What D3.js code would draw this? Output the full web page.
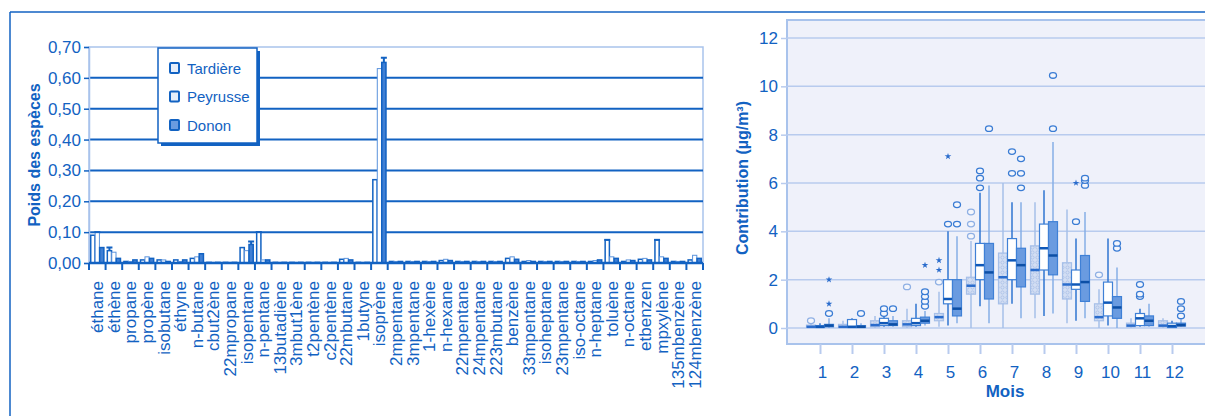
<!DOCTYPE html>
<html>
<head>
<meta charset="utf-8">
<script src="https://cdn.jsdelivr.net/npm/d3@7"></script>
<style>
  body { margin: 0; background: #fff; }
  svg { display: block; font-family: "Liberation Sans", Arial, sans-serif; }
</style>
</head>
<body>
<div id="chart"></div>
<script>
// ---- left chart data (weights of species per site) ----
const species = ["éthane", "éthène", "propane", "propène", "isobutane", "éthyne", "n-butane", "cbut2ène",
  "22mpropane", "isopentane", "n-pentane", "13butadiène", "3mbut1ène", "t2pentène", "c2pentène", "22mbutane",
  "1butyne", "isoprène", "2mpentane", "3mpentane", "1-hexène", "n-hexane", "22mpentane", "24mpentane",
  "223mbutane", "benzène", "33mpentane", "isoheptane", "23mpentane", "iso-octane", "n-heptane", "toluène",
  "n-octane", "etbenzen", "mpxylène", "135mbenzène", "124mbenzène"];
const sites = ["Tardière", "Peyrusse", "Donon"];
const tardiere = [0.09, 0.04, 0.005, 0.01, 0.01, 0.01, 0.015, 0.002, 0.002, 0.05, 0.10, 0.002, 0.002, 0.002, 0.002, 0.012,
  0.002, 0.27, 0.005, 0.005, 0.005, 0.008, 0.005, 0.005, 0.005, 0.015, 0.005, 0.005, 0.005, 0.005, 0.005, 0.075,
  0.005, 0.012, 0.075, 0.005, 0.01];
const peyrusse = [0.10, 0.035, 0.005, 0.02, 0.01, 0.005, 0.02, 0.002, 0.002, 0.04, 0.01, 0.002, 0.002, 0.002, 0.002, 0.015,
  0.002, 0.63, 0.005, 0.005, 0.005, 0.012, 0.005, 0.005, 0.005, 0.02, 0.008, 0.005, 0.005, 0.005, 0.008, 0.02,
  0.01, 0.015, 0.02, 0.005, 0.025];
const donon = [0.05, 0.015, 0.01, 0.015, 0.005, 0.01, 0.03, 0.002, 0.002, 0.06, 0.01, 0.002, 0.002, 0.002, 0.002, 0.01,
  0.002, 0.65, 0.005, 0.005, 0.005, 0.008, 0.005, 0.005, 0.005, 0.012, 0.005, 0.005, 0.005, 0.005, 0.01, 0.015,
  0.008, 0.01, 0.015, 0.005, 0.015];
const caps = [["éthane", 1, 0.10], ["éthène", 0, 0.05], ["isopentane", 2, 0.07], ["n-pentane", 0, 0.10],
  ["isoprène", 2, 0.665], ["toluène", 0, 0.075], ["mpxylène", 0, 0.075]];
const leftTicks = [0, 0.1, 0.2, 0.3, 0.4, 0.5, 0.6, 0.7];

// ---- right chart data (monthly boxplots): [low whisker, q1, median, q3, high whisker] ----
const months = [1, 2, 3, 4, 5, 6, 7, 8, 9, 10, 11, 12];
const boxTardiere = [[0, 0.02, 0.05, 0.12, 0.25], [0, 0.02, 0.05, 0.15, 0.3], [0, 0.05, 0.12, 0.3, 0.5],
  [0, 0.05, 0.15, 0.3, 0.8], [0.05, 0.3, 0.45, 0.6, 1.5], [0, 1.4, 1.75, 2.1, 3.6], [0, 1.0, 2.1, 3.1, 6.0],
  [0.4, 1.4, 2.4, 3.4, 5.2], [0.2, 1.2, 1.8, 2.7, 4.9], [0, 0.3, 0.45, 1.0, 1.6], [0, 0.05, 0.1, 0.2, 0.4],
  [0, 0.05, 0.1, 0.3, 0.4]];
const boxPeyrusse = [[0, 0.02, 0.05, 0.1, 0.2], [0, 0.02, 0.05, 0.35, 0.4], [0.05, 0.1, 0.2, 0.4, 0.6],
  [0.05, 0.1, 0.2, 0.4, 1.0], [0.1, 1.0, 1.2, 2.0, 4.0], [0.9, 2.0, 2.6, 3.5, 5.6], [1.0, 2.0, 2.8, 3.7, 5.2],
  [0.5, 2.4, 3.3, 4.3, 5.7], [0.3, 1.6, 1.8, 2.4, 3.7], [0.1, 0.5, 1.05, 1.9, 3.7], [0.05, 0.1, 0.4, 0.6, 0.8],
  [0, 0.02, 0.08, 0.2, 0.3]];
const boxDonon = [[0, 0.05, 0.1, 0.15, 0.4], [0, 0.02, 0.05, 0.1, 0.2], [0.05, 0.1, 0.15, 0.3, 0.5],
  [0.1, 0.2, 0.3, 0.45, 0.7], [0.2, 0.5, 0.8, 2.0, 3.8], [0.2, 1.2, 2.3, 3.5, 5.9], [0.4, 1.7, 2.6, 3.3, 5.2],
  [0.6, 2.2, 3.0, 4.4, 7.7], [0.4, 1.1, 1.9, 3.0, 4.8], [0, 0.4, 0.85, 1.3, 2.5], [0.05, 0.1, 0.3, 0.5, 1.0],
  [0.05, 0.08, 0.12, 0.2, 0.4]];
// outliers: [month, site index, value]
const outliers = [[1, 0, 0.3], [1, 2, 0.6], [2, 2, 0.6], [3, 1, 0.6], [3, 1, 0.8], [3, 2, 0.8], [4, 0, 1.7],
  [4, 2, 0.9], [4, 2, 1.1], [4, 2, 1.3], [4, 2, 1.5], [5, 1, 4.3], [5, 2, 4.3], [5, 2, 5.1], [5, 0, 1.9],
  [6, 0, 3.8], [6, 0, 4.3], [6, 0, 4.8], [6, 1, 5.8], [6, 1, 6.2], [6, 1, 6.5], [6, 2, 8.25],
  [7, 1, 6.4], [7, 1, 7.3], [7, 2, 5.8], [7, 2, 6.4], [7, 2, 7.0], [8, 2, 8.25], [8, 2, 10.45],
  [9, 1, 4.4], [9, 2, 5.9], [9, 2, 6.1], [9, 2, 6.2], [10, 0, 2.2], [10, 2, 3.3], [10, 2, 3.5],
  [11, 1, 1.3], [11, 1, 1.4], [11, 1, 1.8], [12, 2, 0.5], [12, 2, 0.8], [12, 2, 1.1]];
const extremes = [[1, 2, 2.0], [1, 2, 1.0], [4, 2, 2.6], [5, 0, 2.4], [5, 0, 2.8], [5, 1, 7.1], [9, 1, 6.0]];
const rightTicks = [0, 2, 4, 6, 8, 10, 12];

const blue = "#1262c2";
const svg = d3.select("#chart").append("svg").attr("width", 1205).attr("height", 416);

// outer frame lines
svg.append("line").attr("x1", 10).attr("x2", 1205).attr("y1", 12).attr("y2", 12)
  .attr("stroke", blue).attr("stroke-width", 1.5);
svg.append("line").attr("x1", 10).attr("x2", 10).attr("y1", 12).attr("y2", 416)
  .attr("stroke", blue).attr("stroke-width", 1.5);

// ================= left chart =================
const L = { left: 89, right: 703, top: 47, bottom: 263 };
const yL = d3.scaleLinear().domain([0, 0.7]).range([L.bottom, L.top]);
const xL = d3.scaleBand().domain(species).range([L.left, L.right]);
const xS = d3.scaleBand().domain(d3.range(3)).range([1.5, xL.bandwidth() - 1.5]).padding(0.05);

const gL = svg.append("g");
gL.append("rect").attr("x", L.left).attr("y", L.top).attr("width", L.right - L.left).attr("height", L.bottom - L.top)
  .attr("fill", "none").attr("stroke", "#a9c3ec").attr("stroke-width", 1.5);

gL.selectAll(".grid").data(leftTicks.filter(d => d > 0 && d < 0.7)).enter().append("line")
  .attr("x1", L.left).attr("x2", L.right).attr("y1", d => yL(d)).attr("y2", d => yL(d))
  .attr("stroke", blue).attr("stroke-width", 2);

// left axis
gL.append("g").attr("transform", `translate(${L.left},0)`)
  .call(d3.axisLeft(yL).tickValues(leftTicks).tickSize(5).tickPadding(3)
    .tickFormat(d => d3.format(".2f")(d).replace(".", ",")))
  .call(g => g.select(".domain").attr("stroke", "#a9c3ec").attr("stroke-width", 1.5))
  .call(g => g.selectAll(".tick line").attr("stroke", blue).attr("stroke-width", 1.5))
  .call(g => g.selectAll(".tick text").attr("fill", blue).style("font-size", "17px"));

// bars
const barData = species.flatMap((c, i) => [tardiere[i], peyrusse[i], donon[i]].map((v, s) => ({ c, s, v })));
const barFill = ["#ffffff", "#ffffff", "#3f7fd4"];
const barStroke = [blue, "#5b93dc", blue];
gL.selectAll(".bar").data(barData).enter().append("rect")
  .attr("x", d => xL(d.c) + xS(d.s))
  .attr("y", d => yL(d.v))
  .attr("width", xS.bandwidth())
  .attr("height", d => yL(0) - yL(d.v))
  .attr("fill", d => barFill[d.s])
  .attr("stroke", d => barStroke[d.s])
  .attr("stroke-width", d => d.s === 1 ? 1 : 1.5);

// error caps
gL.selectAll(".cap").data(caps).enter().append("path")
  .attr("d", d => {
    const cx = xL(d[0]) + xS(d[1]) + xS.bandwidth() / 2;
    const bar = [tardiere, peyrusse, donon][d[1]][species.indexOf(d[0])];
    return `M${cx},${yL(bar)}V${yL(d[2])}M${cx - 3},${yL(d[2])}H${cx + 3}`;
  })
  .attr("stroke", blue).attr("stroke-width", 2).attr("fill", "none");

// bottom axis with boundary ticks
gL.append("line").attr("x1", L.left).attr("x2", L.right).attr("y1", yL(0)).attr("y2", yL(0))
  .attr("stroke", blue).attr("stroke-width", 2.5);
gL.selectAll(".btick").data(species.concat(["end"])).enter().append("line")
  .attr("x1", d => d === "end" ? L.right : xL(d)).attr("x2", d => d === "end" ? L.right : xL(d))
  .attr("y1", yL(0)).attr("y2", yL(0) + 7)
  .attr("stroke", blue).attr("stroke-width", 2);

gL.selectAll(".xlab").data(species).enter().append("text")
  .attr("transform", d => `translate(${xL(d) + xL.bandwidth() / 2 + 6},281) rotate(-90)`)
  .attr("text-anchor", "end")
  .attr("fill", blue)
  .style("font-size", "17px")
  .text(d => d);

gL.append("text")
  .attr("transform", `translate(40,${(L.top + L.bottom) / 2}) rotate(-90)`)
  .attr("text-anchor", "middle").attr("fill", blue)
  .style("font-size", "16px").style("font-weight", "bold")
  .text("Poids des espèces");

// legend
const lg = gL.append("g").attr("transform", "translate(158,48)");
lg.append("rect").attr("x", 3).attr("y", 3).attr("width", 99).attr("height", 95).attr("fill", blue);
lg.append("rect").attr("width", 99).attr("height", 95).attr("fill", "#fff").attr("stroke", blue).attr("stroke-width", 1.5);
sites.forEach((s, i) => {
  const yy = 20 + i * 28.5;
  lg.append("rect").attr("x", 12).attr("y", yy - 5).attr("width", 9).attr("height", 10)
    .attr("fill", barFill[i] === "#ffffff" ? "#e6eefa" : "#6a9be0").attr("stroke", blue).attr("stroke-width", 2).attr("rx", 1);
  lg.append("text").attr("x", 29).attr("y", yy + 5.5).attr("fill", blue).style("font-size", "15px").text(s);
});

// ================= right chart =================
const R = { left: 787, right: 1215, top: 20, bottom: 344 };
const yR = d3.scaleLinear().domain([0, 12]).range([328, 38]);
const xR = d3.scaleLinear().domain([0, 13]).range([788, 1204]);
const offs = [-9, 0, 9];
const bw = 9;

const gR = svg.append("g");
gR.append("rect").attr("x", R.left).attr("y", R.top).attr("width", R.right - R.left).attr("height", R.bottom - R.top)
  .attr("fill", "#eff1fa").attr("stroke", "#a9c3ec").attr("stroke-width", 2);

gR.selectAll(".grid").data(rightTicks).enter().append("line")
  .attr("x1", R.left).attr("x2", R.right).attr("y1", d => yR(d)).attr("y2", d => yR(d))
  .attr("stroke", "#b8cbee").attr("stroke-width", 1.5);

gR.append("g").attr("transform", `translate(${R.left},0)`)
  .call(d3.axisLeft(yR).tickValues(rightTicks).tickSize(6).tickPadding(3))
  .call(g => g.select(".domain").remove())
  .call(g => g.selectAll(".tick line").attr("stroke", "#b8cbee").attr("stroke-width", 1.5))
  .call(g => g.selectAll(".tick text").attr("fill", blue).style("font-size", "17px"));

gR.append("g").attr("transform", `translate(0,${R.bottom})`)
  .call(d3.axisBottom(xR).tickValues(months).tickSize(10).tickPadding(12))
  .call(g => g.select(".domain").remove())
  .call(g => g.selectAll(".tick line").attr("stroke", "#b8cbee").attr("stroke-width", 2))
  .call(g => g.selectAll(".tick text").attr("fill", blue).attr("dx", 2).style("font-size", "17px"));

gR.append("text").attr("x", 1005).attr("y", 397).attr("text-anchor", "middle").attr("fill", blue)
  .style("font-size", "17px").style("font-weight", "bold").text("Mois");
gR.append("text")
  .attr("transform", "translate(748,178) rotate(-90)")
  .attr("text-anchor", "middle").attr("fill", blue)
  .style("font-size", "16px").style("font-weight", "bold")
  .text("Contribution (µg/m³)");

// dotted pattern for Tardière boxes
const defs = svg.append("defs");
const pat = defs.append("pattern").attr("id", "dots").attr("patternUnits", "userSpaceOnUse")
  .attr("width", 5).attr("height", 5);
pat.append("rect").attr("width", 5).attr("height", 5).attr("fill", "#d3def3");
pat.append("circle").attr("cx", 2.5).attr("cy", 2.5).attr("r", 1.6).attr("fill", "none")
  .attr("stroke", "#a8bfe6").attr("stroke-width", 0.8);

const boxStyle = [
  { fill: "url(#dots)", stroke: "#a6bfe8", whisk: "#a6bfe8", med: "#2a6ccc" },
  { fill: "#ffffff", stroke: "#3f80d6", whisk: "#2f74d0", med: "#0f58b8" },
  { fill: "#6a9be0", stroke: "#3f80d6", whisk: "#86aee6", med: "#0c4fa6" }
];
const boxes = months.flatMap((m, i) => [boxTardiere[i], boxPeyrusse[i], boxDonon[i]].map((b, s) => ({ m, s, b })));
const bg = gR.selectAll(".box").data(boxes).enter().append("g");
bg.append("line")
  .attr("x1", d => xR(d.m) + offs[d.s]).attr("x2", d => xR(d.m) + offs[d.s])
  .attr("y1", d => yR(d.b[0])).attr("y2", d => yR(d.b[4]))
  .attr("stroke", d => boxStyle[d.s].whisk).attr("stroke-width", 1.5);
bg.append("rect")
  .attr("x", d => xR(d.m) + offs[d.s] - bw / 2)
  .attr("y", d => yR(d.b[3]))
  .attr("width", bw)
  .attr("height", d => Math.max(1, yR(d.b[1]) - yR(d.b[3])))
  .attr("fill", d => boxStyle[d.s].fill)
  .attr("stroke", d => boxStyle[d.s].stroke).attr("stroke-width", 1.2);
bg.append("line")
  .attr("x1", d => xR(d.m) + offs[d.s] - bw / 2).attr("x2", d => xR(d.m) + offs[d.s] + bw / 2)
  .attr("y1", d => yR(d.b[2])).attr("y2", d => yR(d.b[2]))
  .attr("stroke", d => boxStyle[d.s].med).attr("stroke-width", 2.5);

gR.selectAll(".out").data(outliers).enter().append("ellipse")
  .attr("cx", d => xR(d[0]) + offs[d[1]]).attr("cy", d => yR(d[2]))
  .attr("rx", 3.5).attr("ry", 2.8)
  .attr("fill", "#f4f6fc").attr("stroke", d => d[1] === 0 ? "#8fb0e4" : "#3a7cd4").attr("stroke-width", 1.3);

gR.selectAll(".ext").data(extremes).enter().append("path")
  .attr("transform", d => `translate(${xR(d[0]) + offs[d[1]]},${yR(d[2])})`)
  .attr("d", d3.symbol(d3.symbolStar, 14))
  .attr("fill", "#2a6ccc");
</script>
</body>
</html>
